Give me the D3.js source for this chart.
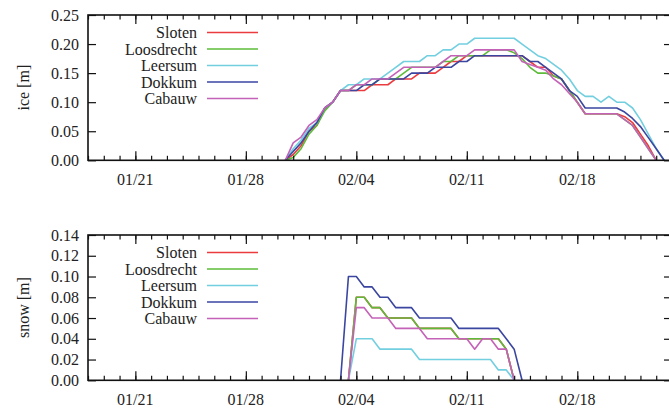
<!DOCTYPE html>
<html>
<head>
<meta charset="utf-8">
<script src="https://cdn.jsdelivr.net/npm/d3@7"></script>
<style>
  html, body { margin: 0; padding: 0; background: #fff; }
  svg { display: block; }
  text { font-family: "Liberation Serif", "DejaVu Serif", serif; font-size: 16px; fill: #222; }
</style>
</head>
<body>
<svg id="chart" width="669" height="408"></svg>
<script>
// Stations, in drawing order
const stations = ["Sloten", "Loosdrecht", "Leersum", "Dokkum", "Cabauw"];
const stationColors = ["#ec3b3f", "#5dbb3a", "#72cfe0", "#3a46a0", "#c462b8"];

// Ice thickness samples (every 12 h), metres
const iceTimes = [
  "2012-01-30 12", "2012-01-31 00", "2012-01-31 12", "2012-02-01 00", "2012-02-01 12",
  "2012-02-02 00", "2012-02-02 12", "2012-02-03 00", "2012-02-03 12", "2012-02-04 00",
  "2012-02-04 12", "2012-02-05 00", "2012-02-05 12", "2012-02-06 00", "2012-02-06 12",
  "2012-02-07 00", "2012-02-07 12", "2012-02-08 00", "2012-02-08 12", "2012-02-09 00",
  "2012-02-09 12", "2012-02-10 00", "2012-02-10 12", "2012-02-11 00", "2012-02-11 12",
  "2012-02-12 00", "2012-02-12 12", "2012-02-13 00", "2012-02-13 12", "2012-02-14 00",
  "2012-02-14 12", "2012-02-15 00", "2012-02-15 12", "2012-02-16 00", "2012-02-16 12",
  "2012-02-17 00", "2012-02-17 12", "2012-02-18 00", "2012-02-18 12", "2012-02-19 00",
  "2012-02-19 12", "2012-02-20 00", "2012-02-20 12", "2012-02-21 00", "2012-02-21 12",
  "2012-02-22 00", "2012-02-22 12", "2012-02-23 00", "2012-02-23 12"
];
const iceSloten = [
  0, 0.01, 0.025, 0.05, 0.06, 0.09, 0.10, 0.12, 0.12, 0.12,
  0.12, 0.13, 0.13, 0.13, 0.14, 0.14, 0.14, 0.15, 0.15, 0.15,
  0.16, 0.17, 0.17, 0.18, 0.18, 0.18, 0.18, 0.18, 0.18, 0.18,
  0.18, 0.17, 0.16, 0.16, 0.145, 0.14, 0.12, 0.10, 0.08, 0.08,
  0.08, 0.08, 0.08, 0.075, 0.065, 0.045, 0.025, 0, null
];
const iceLoosdrecht = [
  0, 0.005, 0.02, 0.045, 0.06, 0.085, 0.10, 0.12, 0.12, 0.13,
  0.13, 0.13, 0.14, 0.14, 0.14, 0.15, 0.16, 0.16, 0.16, 0.16,
  0.17, 0.17, 0.18, 0.18, 0.18, 0.18, 0.19, 0.19, 0.19, 0.185,
  0.175, 0.16, 0.15, 0.15, 0.145, 0.14, 0.12, 0.10, 0.08, 0.08,
  0.08, 0.08, 0.08, 0.07, 0.06, 0.04, 0.02, 0, null
];
const iceLeersum = [
  0, 0.02, 0.035, 0.055, 0.065, 0.09, 0.10, 0.12, 0.13, 0.13,
  0.14, 0.14, 0.14, 0.15, 0.16, 0.17, 0.17, 0.17, 0.18, 0.18,
  0.19, 0.19, 0.20, 0.20, 0.21, 0.21, 0.21, 0.21, 0.21, 0.21,
  0.20, 0.19, 0.18, 0.175, 0.165, 0.155, 0.14, 0.12, 0.11, 0.11,
  0.10, 0.11, 0.10, 0.10, 0.09, 0.07, 0.045, 0.02, 0
];
const iceDokkum = [
  0, 0.015, 0.03, 0.05, 0.065, 0.09, 0.10, 0.12, 0.12, 0.12,
  0.13, 0.13, 0.14, 0.14, 0.14, 0.14, 0.15, 0.15, 0.15, 0.16,
  0.16, 0.16, 0.17, 0.17, 0.18, 0.18, 0.18, 0.18, 0.18, 0.18,
  0.18, 0.17, 0.17, 0.16, 0.15, 0.14, 0.12, 0.11, 0.09, 0.09,
  0.09, 0.09, 0.09, 0.083, 0.072, 0.058, 0.039, 0.02, 0
];
const iceCabauw = [
  0, 0.03, 0.04, 0.06, 0.07, 0.09, 0.10, 0.12, 0.12, 0.13,
  0.13, 0.14, 0.14, 0.14, 0.15, 0.16, 0.16, 0.16, 0.16, 0.16,
  0.17, 0.18, 0.18, 0.18, 0.19, 0.19, 0.19, 0.19, 0.19, 0.19,
  0.17, 0.165, 0.16, 0.155, 0.14, 0.13, 0.115, 0.10, 0.08, 0.08,
  0.08, 0.08, 0.08, 0.07, 0.06, 0.04, 0.02, 0, null
];

// Snow depth samples (every 12 h), metres
const snowTimes = [
  "2012-02-03 00", "2012-02-03 12", "2012-02-04 00", "2012-02-04 12", "2012-02-05 00",
  "2012-02-05 12", "2012-02-06 00", "2012-02-06 12", "2012-02-07 00", "2012-02-07 12",
  "2012-02-08 00", "2012-02-08 12", "2012-02-09 00", "2012-02-09 12", "2012-02-10 00",
  "2012-02-10 12", "2012-02-11 00", "2012-02-11 12", "2012-02-12 00", "2012-02-12 12",
  "2012-02-13 00", "2012-02-13 12", "2012-02-14 00", "2012-02-14 12"
];
const snowSloten = [
  null, 0, 0.08, 0.08, 0.07, 0.07, 0.06, 0.06, 0.06, 0.06,
  0.05, 0.05, 0.05, 0.05, 0.05, 0.04, 0.04, 0.04, 0.04, 0.04,
  0.04, 0.03, 0, null
];
const snowLoosdrecht = [
  null, 0, 0.08, 0.08, 0.07, 0.07, 0.06, 0.06, 0.06, 0.06,
  0.05, 0.05, 0.05, 0.05, 0.05, 0.04, 0.04, 0.04, 0.04, 0.04,
  0.04, 0.03, 0, null
];
const snowLeersum = [
  null, 0, 0.04, 0.04, 0.04, 0.03, 0.03, 0.03, 0.03, 0.03,
  0.02, 0.02, 0.02, 0.02, 0.02, 0.02, 0.02, 0.02, 0.02, 0.02,
  0.01, 0.01, 0, null
];
const snowDokkum = [
  0, 0.10, 0.10, 0.09, 0.09, 0.08, 0.08, 0.07, 0.07, 0.07,
  0.06, 0.06, 0.06, 0.06, 0.06, 0.05, 0.05, 0.05, 0.05, 0.05,
  0.05, 0.04, 0.03, 0
];
const snowCabauw = [
  null, 0, 0.07, 0.07, 0.06, 0.06, 0.06, 0.05, 0.05, 0.05,
  0.05, 0.04, 0.04, 0.04, 0.04, 0.04, 0.04, 0.03, 0.04, 0.04,
  0.03, 0.03, 0, null
];

// Axis ticks
const dateTicks = ["2012-01-21", "2012-01-28", "2012-02-04", "2012-02-11", "2012-02-18"];
const iceTicks = [0, 0.05, 0.10, 0.15, 0.20, 0.25];
const snowTicks = [0, 0.02, 0.04, 0.06, 0.08, 0.10, 0.12, 0.14];

const parseTime = d3.timeParse("%Y-%m-%d %H");
const parseDay = d3.timeParse("%Y-%m-%d");

const svg = d3.select("#chart");

const x = d3.scaleTime()
  .domain([parseDay("2012-01-18"), parseDay("2012-02-24")])
  .range([88, 672]);

const majorDates = dateTicks.map(parseDay);
const minorDates = d3.timeDay.range(x.domain()[0], x.domain()[1]);

function drawPanel(opts) {
  const g = svg.append("g");
  const y = d3.scaleLinear().domain(opts.yDomain).range([opts.bottom, opts.top]);
  const times = opts.times.map(parseTime);

  // data lines
  const line = d3.line()
    .defined(d => d[1] != null)
    .x(d => x(d[0]))
    .y(d => y(d[1]));

  opts.series.forEach((vals, i) => {
    g.append("path")
      .datum(times.map((t, j) => [t, vals[j]]))
      .attr("fill", "none")
      .attr("stroke", stationColors[i])
      .attr("stroke-width", 1.6)
      .attr("stroke-linejoin", "round")
      .attr("d", line);
  });

  // x axes: minor and major ticks on bottom and top, pointing inward
  const axes = g.append("g").attr("class", "axes");
  const tickStyle = sel => {
    sel.select(".domain").remove();
    sel.selectAll(".tick line").attr("stroke", "#111").attr("stroke-width", 1.2);
    sel.selectAll(".tick text").remove();
  };
  axes.append("g").attr("transform", `translate(0,${opts.bottom})`)
    .call(d3.axisBottom(x).tickValues(minorDates).tickSize(-4.5)).call(tickStyle);
  axes.append("g").attr("transform", `translate(0,${opts.bottom})`)
    .call(d3.axisBottom(x).tickValues(majorDates).tickSize(-9)).call(tickStyle);
  axes.append("g").attr("transform", `translate(0,${opts.top})`)
    .call(d3.axisTop(x).tickValues(minorDates).tickSize(-4.5)).call(tickStyle);
  axes.append("g").attr("transform", `translate(0,${opts.top})`)
    .call(d3.axisTop(x).tickValues(majorDates).tickSize(-9)).call(tickStyle);

  // y axes: left and right, pointing inward
  axes.append("g").attr("transform", `translate(${x.range()[0]},0)`)
    .call(d3.axisLeft(y).tickValues(opts.yTicks).tickSize(-8)).call(tickStyle);
  axes.append("g").attr("transform", `translate(${x.range()[1]},0)`)
    .call(d3.axisRight(y).tickValues(opts.yTicks).tickSize(-8)).call(tickStyle);

  // frame
  g.append("rect")
    .attr("x", x.range()[0]).attr("y", opts.top)
    .attr("width", x.range()[1] - x.range()[0])
    .attr("height", opts.bottom - opts.top)
    .attr("fill", "none").attr("stroke", "#111").attr("stroke-width", 1.6);

  // tick labels
  const fmtDate = d3.timeFormat("%m/%d");
  g.selectAll(".xlab").data(majorDates).enter().append("text")
    .attr("x", d => x(d)).attr("y", opts.bottom + 24.5)
    .attr("text-anchor", "middle").text(d => fmtDate(d));
  const fmtY = d3.format(".2f");
  g.selectAll(".ylab").data(opts.yTicks).enter().append("text")
    .attr("x", 79).attr("y", d => y(d) + 5.5)
    .attr("text-anchor", "end").text(d => fmtY(d));

  // axis title
  g.append("text")
    .attr("transform", `translate(29,${(opts.top + opts.bottom) / 2}) rotate(-90)`)
    .attr("text-anchor", "middle").text(opts.title);

  // legend
  stations.forEach((name, i) => {
    const ly = opts.top + 17.5 + i * 16.5;
    g.append("text").attr("x", 197).attr("y", ly + 5.5)
      .attr("text-anchor", "end").text(name);
    g.append("line").attr("x1", 207).attr("x2", 258)
      .attr("y1", ly).attr("y2", ly)
      .attr("stroke", stationColors[i]).attr("stroke-width", 1.6);
  });
}

drawPanel({
  top: 15, bottom: 160.3,
  yDomain: [0, 0.25], yTicks: iceTicks,
  times: iceTimes,
  series: [iceSloten, iceLoosdrecht, iceLeersum, iceDokkum, iceCabauw],
  title: "ice [m]"
});

drawPanel({
  top: 235, bottom: 380.3,
  yDomain: [0, 0.14], yTicks: snowTicks,
  times: snowTimes,
  series: [snowSloten, snowLoosdrecht, snowLeersum, snowDokkum, snowCabauw],
  title: "snow [m]"
});
</script>
</body>
</html>
